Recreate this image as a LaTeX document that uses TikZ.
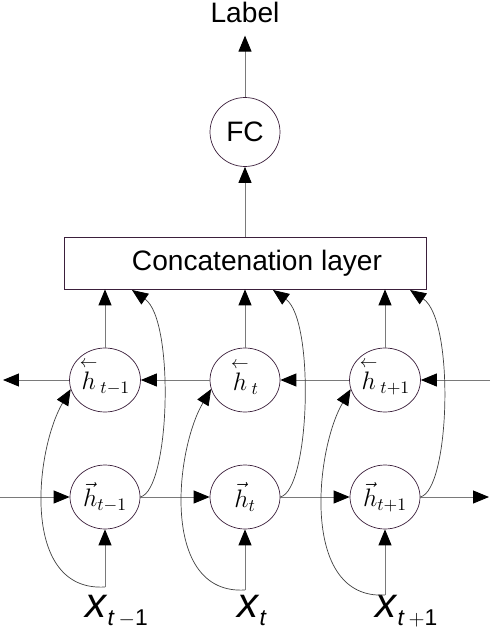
\documentclass[tikz,border=0pt]{standalone}
\usepackage{amsmath}
\usepackage{fontspec}
\setmainfont{Liberation Sans}
\usetikzlibrary{arrows.meta, positioning, shapes.geometric}
\definecolor{nodestroke}{HTML}{3B1F3B}
\definecolor{linegray}{HTML}{7A7A7A}
\newcommand{\bwh}{\overset{\smash{\scriptstyle\leftarrow}}{h}}

\begin{document}
\begin{tikzpicture}[
    x=0.02cm, y=-0.02cm,
    every node/.style={font=\fontsize{16}{18}\selectfont},
    hnode/.style={ellipse, draw=nodestroke, minimum width=1.4cm, minimum height=1.28cm, inner sep=0pt, font=\fontsize{14}{16}\selectfont},
    fcnode/.style={ellipse, draw=nodestroke, minimum width=1.4cm, minimum height=1.38cm, inner sep=0pt},
    concatbox/.style={rectangle, draw=nodestroke, minimum width=7.24cm, minimum height=1.04cm, inner sep=0pt},
    xlbl/.style={anchor=base west, inner sep=0pt, font=\fontsize{24}{26}\selectfont},
    arr/.style={-{Triangle[length=0.32cm, width=0.26cm, color=black]}, draw=linegray, line width=0.5pt},
    curvearr/.style={-{Triangle[length=0.32cm, width=0.26cm, color=black]}, draw=black!75, line width=0.4pt}
]
\useasboundingbox (0,0) rectangle (490,628);

% output part
\node[anchor=base, inner xsep=0pt, inner ysep=0.24cm] (label) at (245,23) {Label};
\node[fcnode] (fc) at (245,132) {FC};
\node[concatbox] (concat) at (245,263) {\hspace*{0.48cm}Concatenation layer};

% backward and forward states
\node[hnode] (t1) at (105,380) {$\bwh_{\,t-1}$};
\node[hnode] (t2) at (245,380) {$\bwh_{\,t}$};
\node[hnode] (t3) at (385,380) {$\bwh_{\,t+1}$};
\node[hnode] (b1) at (105,497) {$\vec{h}_{t-1}$};
\node[hnode] (b2) at (245,497) {$\vec{h}_{t}$};
\node[hnode] (b3) at (385,497) {$\vec{h}_{t+1}$};

% inputs
\node[xlbl] (x1) at (85,617) {\textit{x}\raisebox{-5pt}{\fontsize{13}{13}\selectfont\textit{t}\,$-$1}};
\node[xlbl] (x2) at (237,617) {\textit{x}\raisebox{-5pt}{\fontsize{13}{13}\selectfont\textit{t}}};
\node[xlbl] (x3) at (375,617) {\textit{x}\raisebox{-5pt}{\fontsize{13}{13}\selectfont\textit{t}\,$+$1}};
\coordinate (in1) at (105,587);
\coordinate (in2) at (245,590);
\coordinate (in3) at (385,595);

\coordinate (bl) at (0,497);
\coordinate (br) at (489,497);
\coordinate (tl) at (3,380);
\coordinate (tr) at (490,380);
\coordinate (c1) at (132,290);
\coordinate (c2) at (273,290);
\coordinate (c3) at (410,290);

\draw[arr] (concat) -- (fc);
\draw[arr] (fc) -- (label);

\draw[arr] (bl) -- (b1);
\draw[arr] (b1) -- (b2);
\draw[arr] (b2) -- (b3);
\draw[arr] (b3) -- (br);
\draw[arr] (tr) -- (t3);
\draw[arr] (t3) -- (t2);
\draw[arr] (t2) -- (t1);
\draw[arr] (t1) -- (tl);

\draw[arr] (t1) -- (t1 |- concat.south);
\draw[arr] (t2) -- (t2 |- concat.south);
\draw[arr] (t3) -- (t3 |- concat.south);

\draw[arr] (in1) -- (b1);
\draw[arr] (in2) -- (b2);
\draw[arr] (in3) -- (b3);

\draw[curvearr] (in1) .. controls (20,592) and (35,450) .. (t1.195);
\draw[curvearr] (in2) .. controls (160,595) and (175,450) .. (t2.195);
\draw[curvearr] (in3) .. controls (300,600) and (315,450) .. (t3.195);

\draw[curvearr] (b1.east) .. controls (170,490) and (175,320) .. (c1);
\draw[curvearr] (b2.east) .. controls (310,490) and (315,320) .. (c2);
\draw[curvearr] (b3.east) .. controls (450,490) and (455,320) .. (c3);
\end{tikzpicture}
\end{document}
